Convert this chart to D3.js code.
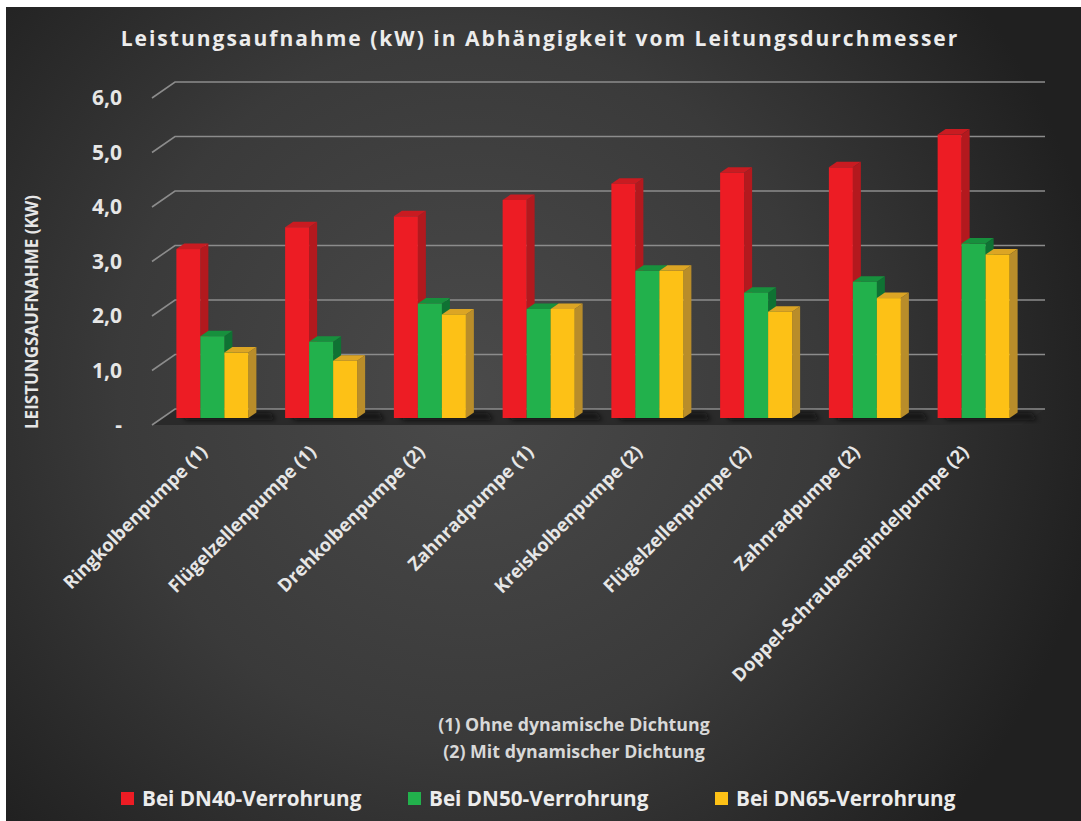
<!DOCTYPE html>
<html>
<head>
<meta charset="utf-8">
<script src="https://cdn.jsdelivr.net/npm/d3@7"></script>
<style>
  html, body { margin: 0; padding: 0; background: #fff; }
  svg { display: block; }
</style>
</head>
<body>
<script>
// Data
const categories = [
    "Ringkolbenpumpe (1)",
    "Flügelzellenpumpe (1)",
    "Drehkolbenpumpe (2)",
    "Zahnradpumpe (1)",
    "Kreiskolbenpumpe (2)",
    "Flügelzellenpumpe (2)",
    "Zahnradpumpe (2)",
    "Doppel-Schraubenspindelpumpe (2)"
];
const seriesNames = ["Bei DN40-Verrohrung", "Bei DN50-Verrohrung", "Bei DN65-Verrohrung"];
const dn40 = [3.1, 3.5, 3.7, 4.0, 4.3, 4.5, 4.6, 5.2];
const dn50 = [1.5, 1.4, 2.1, 2.0, 2.7, 2.3, 2.5, 3.2];
const dn65 = [1.2, 1.05, 1.9, 2.0, 2.7, 1.95, 2.2, 3.0];
const yTicks = [0, 1, 2, 3, 4, 5, 6];
const notes = ["(1) Ohne dynamische Dichtung", "(2) Mit dynamischer Dichtung"];
const titleText = "Leistungsaufnahme (kW) in Abhängigkeit vom Leitungsdurchmesser";
const yTitle = "LEISTUNGSAUFNAHME (KW)";

const seriesValues = [dn40, dn50, dn65];

// colours per series: front, side, top
const colors = [
    { front: "#ed1c24", side: "#b3191e", top: "#c91b21" },
    { front: "#22b14c", side: "#0f7233", top: "#17903d" },
    { front: "#fdc116", side: "#b98d2a", top: "#dca524" }
];

const width = 1081, height = 821;
const font = "'Open Sans', 'DejaVu Sans', sans-serif";

// Layout (back wall)
const wallLeft = 175, wallRight = 1045;
const depth = { x: -23, y: 16 };      // back wall -> front edge of floor
const barW = 24;
const side = { x: 8, y: -5.5 };       // bar depth
const frontShift = { x: -17, y: 9 };  // back wall -> bar front

const svg = d3.select("body").append("svg")
    .attr("width", width)
    .attr("height", height)
    .attr("viewBox", [0, 0, width, height]);

const defs = svg.append("defs");
const bg = defs.append("radialGradient")
    .attr("id", "bg")
    .attr("gradientUnits", "userSpaceOnUse")
    .attr("cx", 470).attr("cy", 390).attr("r", 640);
bg.append("stop").attr("offset", 0).attr("stop-color", "#4a4a4a");
bg.append("stop").attr("offset", 0.55).attr("stop-color", "#3a3a3a");
bg.append("stop").attr("offset", 1).attr("stop-color", "#202020");

defs.append("filter").attr("id", "blur")
    .attr("x", "-20%").attr("y", "-50%").attr("width", "140%").attr("height", "200%")
    .append("feGaussianBlur").attr("stdDeviation", 2.5);

// white margin + dark panel
svg.append("rect").attr("width", width).attr("height", height).attr("fill", "#fff");
svg.append("rect")
    .attr("x", 6).attr("y", 7)
    .attr("width", width - 6).attr("height", height - 7)
    .attr("fill", "url(#bg)");

// Scales
const y = d3.scaleLinear().domain([0, 6]).range([409, 82]);
const x = d3.scaleBand().domain(categories).range([wallLeft, wallRight]).padding(0);
const xSeries = d3.scaleBand().domain(seriesNames).range([0, barW * 3]).padding(0);
const groupOffset = (x.bandwidth() - barW * 3) / 2;

// Title
svg.append("text")
    .attr("x", 540)
    .attr("y", 46)
    .attr("text-anchor", "middle")
    .attr("font-family", font)
    .attr("font-weight", 700)
    .attr("font-size", 21)
    .attr("letter-spacing", 2.0)
    .attr("fill", "#ececec")
    .text(titleText);

// Floor
const floor = svg.append("g");
floor.append("path")
    .attr("d", d3.line()([
        [wallLeft, y(0)], [wallRight, y(0)],
        [wallRight + depth.x, y(0) + depth.y], [wallLeft + depth.x, y(0) + depth.y]
    ]))
    .attr("fill", "#2a2a2a");

// Grid lines on back wall + diagonal on side wall
const grid = svg.append("g")
    .attr("stroke", "#8c8c8c")
    .attr("stroke-width", 1.6)
    .attr("fill", "none");
grid.selectAll("path")
    .data(yTicks)
    .join("path")
    .attr("d", d => d3.line()([
        [wallLeft + depth.x, y(d) + depth.y],
        [wallLeft, y(d)],
        [wallRight, y(d)]
    ]));

// Y axis labels
const yAxis = d3.axisLeft(y)
    .tickValues(yTicks)
    .tickSize(0)
    .tickPadding(0)
    .tickFormat(d => d === 0 ? "-" : d3.format(".1f")(d).replace(".", ","));
const yAxisG = svg.append("g")
    .attr("transform", `translate(122,${depth.y})`)
    .call(yAxis);
yAxisG.select(".domain").remove();
yAxisG.selectAll("text")
    .attr("font-family", font)
    .attr("font-weight", 700)
    .attr("font-size", 21)
    .attr("fill", "#e6e6e6");

// Y axis title
svg.append("text")
    .attr("transform", "translate(38,312) rotate(-90)")
    .attr("text-anchor", "middle")
    .attr("font-family", font)
    .attr("font-weight", 700)
    .attr("font-size", 17)
    .attr("fill", "#e6e6e6")
    .text(yTitle);

// Bars
const bars = [];
categories.forEach((c, j) => {
    seriesNames.forEach((s, i) => {
        bars.push({ cat: c, series: i, value: seriesValues[i][j] });
    });
});

const barX = d => x(d.cat) + groupOffset + xSeries(seriesNames[d.series]) + frontShift.x;
const barTop = d => y(d.value) + frontShift.y;
const barBottom = () => y(0) + frontShift.y;

// floor shadows
svg.append("g").selectAll("path")
    .data(categories)
    .join("path")
    .attr("d", c => {
        const x0 = x(c) + groupOffset + frontShift.x + 4;
        const x1 = x0 + barW * 3 + side.x + 10;
        const yb = barBottom();
        return d3.line()([[x0, yb - 5], [x1, yb - 5], [x1 + 6, yb + 2], [x0 + 6, yb + 2]]);
    })
    .attr("fill", "#0d0d0d")
    .attr("opacity", 0.8)
    .attr("filter", "url(#blur)");

const barG = svg.append("g")
    .selectAll("g")
    .data(bars)
    .join("g");

// side face
barG.append("path")
    .attr("d", d => {
        const x0 = barX(d) + barW, t = barTop(d), b = barBottom();
        return d3.line()([[x0, t], [x0 + side.x, t + side.y], [x0 + side.x, b + side.y], [x0, b]]);
    })
    .attr("fill", d => colors[d.series].side);

// top face
barG.append("path")
    .attr("d", d => {
        const x0 = barX(d), t = barTop(d);
        return d3.line()([[x0, t], [x0 + side.x, t + side.y], [x0 + barW + side.x, t + side.y], [x0 + barW, t]]);
    })
    .attr("fill", d => colors[d.series].top);

// front face
barG.append("rect")
    .attr("x", barX)
    .attr("y", barTop)
    .attr("width", barW)
    .attr("height", d => barBottom() - barTop(d))
    .attr("fill", d => colors[d.series].front);

// X axis labels
const xAxis = d3.axisBottom(x).tickSize(0).tickPadding(0);
const xAxisG = svg.append("g")
    .attr("transform", `translate(${groupOffset + frontShift.x + 32},453)`)
    .call(xAxis);
xAxisG.select(".domain").remove();
xAxisG.selectAll(".tick").attr("transform", d => `translate(${x(d)},0)`);
xAxisG.selectAll(".tick text")
    .attr("x", 0)
    .attr("y", 0)
    .attr("dy", 0)
    .attr("transform", "rotate(-45)")
    .attr("text-anchor", "end")
    .attr("font-family", font)
    .attr("font-weight", 700)
    .attr("font-size", 18.3)
    .attr("fill", "#e6e6e6");

// Notes
svg.append("g")
    .selectAll("text")
    .data(notes)
    .join("text")
    .attr("x", 574)
    .attr("y", (d, i) => 731 + i * 27)
    .attr("text-anchor", "middle")
    .attr("font-family", font)
    .attr("font-weight", 700)
    .attr("font-size", 17.8)
    .attr("fill", "#d8d8d8")
    .text(d => d);

// Legend
const legendX = [121, 408, 715];
const legend = svg.append("g")
    .selectAll("g")
    .data(seriesNames)
    .join("g")
    .attr("transform", (d, i) => `translate(${legendX[i]},792)`);
legend.append("rect")
    .attr("width", 13)
    .attr("height", 13)
    .attr("fill", (d, i) => colors[i].front);
legend.append("text")
    .attr("x", 21)
    .attr("y", 14)
    .attr("font-family", font)
    .attr("font-weight", 700)
    .attr("font-size", 20.7)
    .attr("fill", "#ececec")
    .text(d => d);
</script>
</body>
</html>
